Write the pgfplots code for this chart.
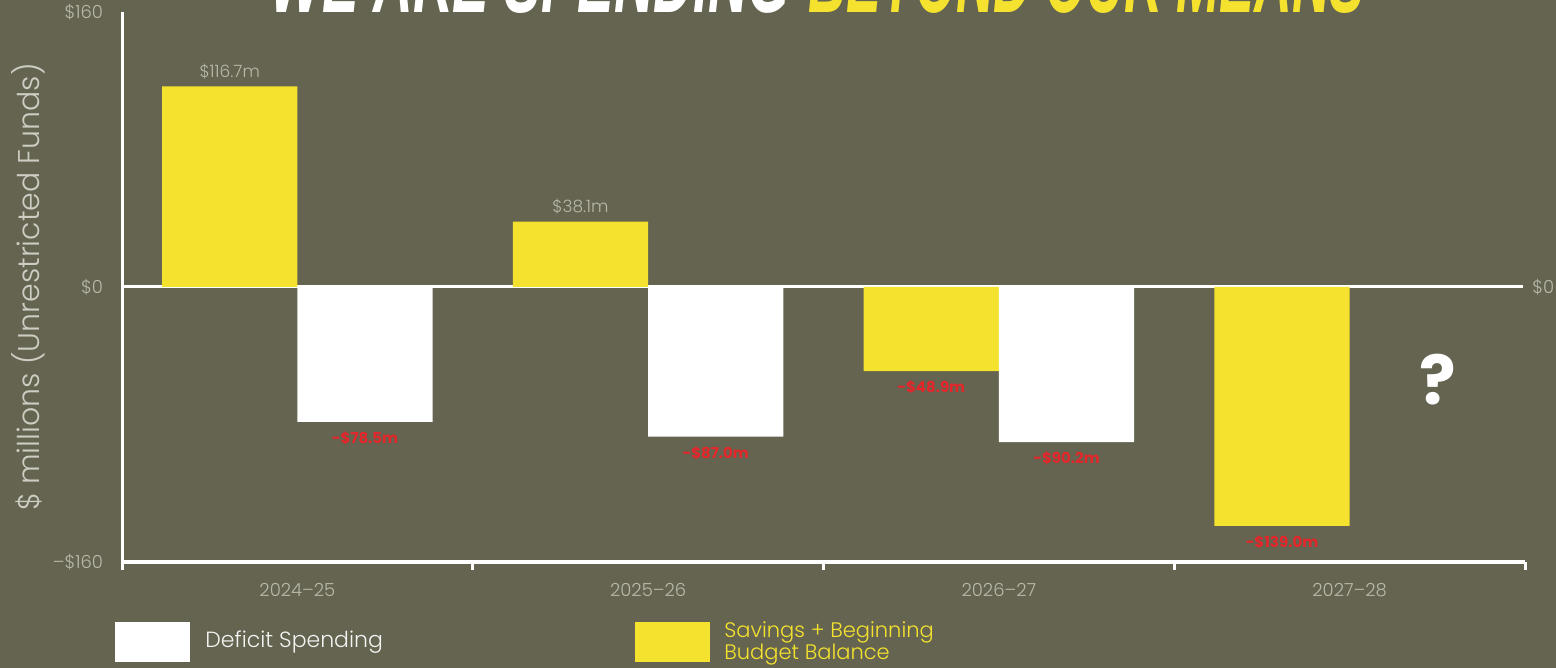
\documentclass[border=0pt]{standalone}
\usepackage{pgfplots}
\pgfplotsset{compat=1.18}
\usepackage{fontspec}
\setmainfont{Poppins Light}
\newfontfamily\titlefont{Liberation Sans}
\newfontfamily\boldfont[Ligatures=TeX]{Poppins}
\definecolor{bg}{RGB}{100,100,80}
\definecolor{ylw}{RGB}{245,226,46}
\definecolor{tickgray}{RGB}{185,185,172}
\definecolor{labgray}{RGB}{205,205,195}
\definecolor{redlab}{RGB}{228,38,42}
\begin{document}
\begin{tikzpicture}[x=1pt,y=1pt]
\fill[bg] (0,0) rectangle (778,334);
\useasboundingbox (0,0) rectangle (778,334);
% title (cut off at the top, as in the reference)
\node[anchor=base west, inner sep=0] at (135,327.5) {\resizebox{260pt}{34pt}{\titlefont\bfseries\itshape\color{white} WE ARE SPENDING}};
\node[anchor=base west, inner sep=0] at (404,327.5) {\resizebox{278pt}{34pt}{\titlefont\bfseries\itshape\color{ylw} BEYOND OUR MEANS}};
\begin{axis}[
  at={(61pt,53pt)}, anchor=south west,
  scale only axis, width=701.5pt, height=275pt,
  xmin=0, xmax=4, ymin=-160, ymax=160,
  clip=false,
  axis x line*=bottom, axis y line*=left,
  x axis line style={white, line width=2pt},
  y axis line style={white, line width=1.5pt},
  xtick={0.5,1.5,2.5,3.5},
  xticklabels={2024--25,2025--26,2026--27,2027--28},
  minor xtick={0,1,2,3,4},
  major tick length=0pt,
  minor tick length=4pt,
  tick align=outside,
  minor tick style={white, line width=1.5pt},
  ytick={-160,0,160},
  yticklabels={--\$160,\$0,\$160},
  tick label style={font=\fontsize{9}{10}\selectfont, text=tickgray},
  xticklabel style={yshift=-7pt},
  yticklabel style={xshift=-6pt},
  ylabel={\$ millions (Unrestricted Funds)},
  ylabel style={at={(axis description cs:-0.067,0.5)}, anchor=center, rotate=0, font=\fontsize{15}{18}\selectfont, text=labgray},
  point meta=explicit symbolic,
  nodes near coords,
]
\draw[white, line width=1.5pt] (axis cs:0,0) -- (axis cs:3.994,0);
% yellow, positive
\addplot[ybar, bar width=0.3857, bar shift=0, fill=ylw, draw=none,
  every node near coord/.append style={anchor=south, font=\fontsize{8.5}{10}\selectfont, text=tickgray, yshift=0pt}]
  coordinates {(0.30714,116.7) [\$116.7m] (1.30714,38.1) [\$38.1m]};
% yellow, negative
\addplot[ybar, bar width=0.3857, bar shift=0, fill=ylw, draw=none,
  every node near coord/.append style={anchor=north, font=\boldfont\bfseries\fontsize{7.5}{9}\selectfont, text=redlab, yshift=-1.5pt}]
  coordinates {(2.30714,-48.9) [-\$48.9m] (3.30714,-139.0) [-\$139.0m]};
% white, deficit spending
\addplot[ybar, bar width=0.3857, bar shift=0, fill=white, draw=none,
  every node near coord/.append style={anchor=north, font=\boldfont\bfseries\fontsize{7.5}{9}\selectfont, text=redlab, yshift=-1.5pt}]
  coordinates {(0.69286,-78.5) [-\$78.5m] (1.69286,-87.0) [-\$87.0m] (2.69286,-90.2) [-\$90.2m]};
\node[anchor=west, text=tickgray, font=\fontsize{9}{10}\selectfont, inner sep=0] at (axis cs:4.02,0) {\$0};
\node[text=white, font=\boldfont\bfseries\fontsize{34}{36}\selectfont] at (axis cs:3.751,-54) {?};
\end{axis}
% legend
\fill[white] (57.5,3) rectangle (95,23);
\node[anchor=west, inner sep=0, text=white!92!bg, font=\fontsize{11}{13}\selectfont] at (102.5,13) {Deficit Spending};
\fill[ylw] (317.5,3) rectangle (355,23);
\node[anchor=west, inner sep=0, text=ylw, align=left, font=\fontsize{10.5}{11}\selectfont] at (362,12.5) {Savings + Beginning\\Budget Balance};
\end{tikzpicture}
\end{document}
